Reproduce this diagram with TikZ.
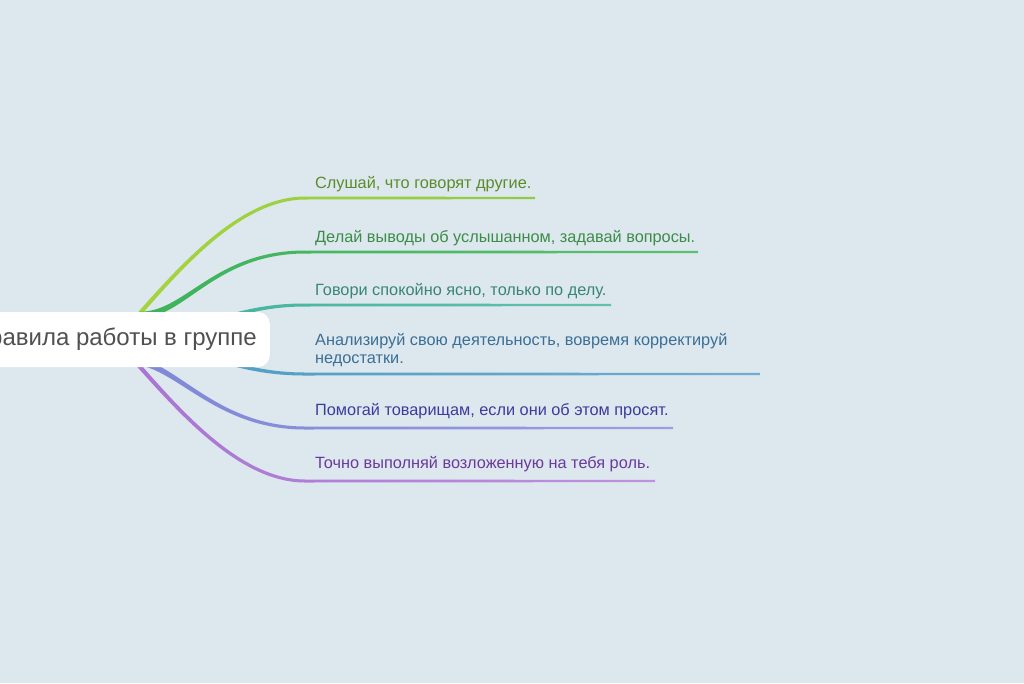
\documentclass[tikz,border=0pt]{standalone}
\usepackage{fontspec}
\setmainfont{Liberation Sans}
\usetikzlibrary{calc}
\pgfdeclarelayer{bg}
\pgfdeclarelayer{mid}
\pgfsetlayers{bg,mid,main}
\definecolor{bgc}{HTML}{DDE7EE}
\definecolor{rootc}{HTML}{505050}
\definecolor{lA}{HTML}{A6D43C}\definecolor{lAb}{HTML}{8FCB45}\definecolor{tA}{HTML}{5B8C2A}
\definecolor{lB}{HTML}{3DB35A}\definecolor{lBb}{HTML}{5CC070}\definecolor{tB}{HTML}{3D8C48}
\definecolor{lC}{HTML}{3FB39B}\definecolor{lCb}{HTML}{62C0AE}\definecolor{tC}{HTML}{3A8577}
\definecolor{lD}{HTML}{4E9CC2}\definecolor{lDb}{HTML}{6EAED2}\definecolor{tD}{HTML}{3B6F95}
\definecolor{lE}{HTML}{7F87D8}\definecolor{lEb}{HTML}{9C9EE0}\definecolor{tE}{HTML}{3C3C9C}
\definecolor{lF}{HTML}{A974D2}\definecolor{lFb}{HTML}{BE92DE}\definecolor{tF}{HTML}{6A3A9C}
\tikzset{
  rootbox/.style={draw=none, fill=white, rounded corners=12pt, minimum height=55pt,
    inner xsep=13pt, inner ysep=0pt, text=rootc, font=\fontsize{24}{28}\selectfont},
  leaf/.style={inner sep=0pt, font=\fontsize{16.3}{18.3}\selectfont, align=left}
}
\newcommand\twig[9]{%
  \coordinate (s#9) at (#1,#2);
  \coordinate (e#9) at (#7,#6);
  \shade[left color=#8, right color=#8b]
    ($(s#9)+(0,-3.3)$) .. controls (#3,{#4-2.9}) and (#5,{#6-1.7}) .. (305,{#6-1.5})
    -- ($(e#9)+(0,-1.1)$) -- ($(e#9)+(0,1.1)$) -- (305,{#6+1.5})
    .. controls (#5,{#6+1.7}) and (#3,{#4+2.9}) .. ($(s#9)+(0,3.3)$) -- cycle;
}
\begin{document}
\begin{tikzpicture}[x=1pt,y=-1pt]
\useasboundingbox (0,0) rectangle (1024,683);
\clip (0,0) rectangle (1024,683);
\begin{pgfonlayer}{bg}
\fill[bgc] (0,0) rectangle (1024,683);
\end{pgfonlayer}
\node[rootbox, anchor=east] (root) at (270,339.5) {Правила работы в группе};
\begin{pgfonlayer}{mid}
\twig{125}{330}{170}{280}{235}{198}{535}{lA}{1}
\twig{140}{315}{185}{315}{215}{252}{698}{lB}{2}
\twig{140}{335}{200}{335}{230}{305}{611}{lC}{3}
\twig{140}{345}{200}{345}{230}{374}{760}{lD}{4}
\twig{140}{362}{180}{370}{220}{428}{673}{lE}{5}
\twig{125}{350}{170}{400}{235}{481}{655}{lF}{6}
\end{pgfonlayer}
\node[leaf, text=tA, anchor=base west] (t1) at (315,188) {Слушай, что говорят другие.};
\node[leaf, text=tB, anchor=base west] (t2) at (315,242) {Делай выводы об услышанном, задавай вопросы.};
\node[leaf, text=tC, anchor=base west] (t3) at (315,295) {Говори спокойно ясно, только по делу.};
\node[leaf, text=tD, anchor=north west] (t4) at (315,333) {Анализируй свою деятельность, вовремя корректируй\\недостатки.};
\node[leaf, text=tE, anchor=base west] (t5) at (315,415) {Помогай товарищам, если они об этом просят.};
\node[leaf, text=tF, anchor=base west] (t6) at (315,468) {Точно выполняй возложенную на тебя роль.};
\end{tikzpicture}
\end{document}
